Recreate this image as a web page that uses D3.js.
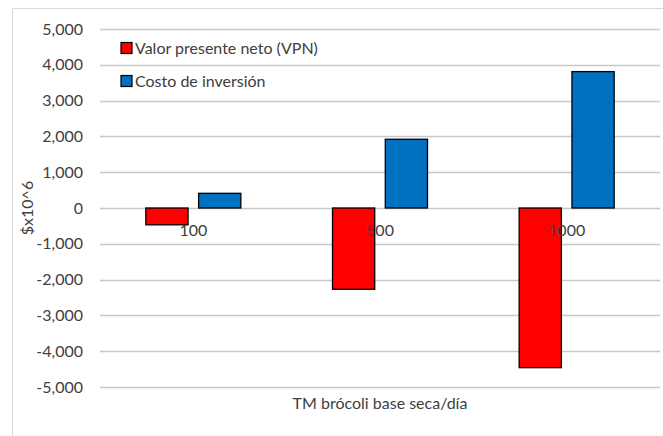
<!DOCTYPE html>
<html>
<head>
<meta charset="utf-8">
<script src="https://cdn.jsdelivr.net/npm/d3@7"></script>
<style>
  body { margin: 0; background: #fff; }
  svg text { font-family: Lato, "Open Sans", sans-serif; fill: #404040; font-size: 16px; }
</style>
</head>
<body>
<div class="chart"></div>
<script>
const categories = ["100", "500", "1000"];
const seriesNames = ["Valor presente neto (VPN)", "Costo de inversión"];
const vpn = [-470, -2270, -4460];
const costo = [410, 1920, 3810];
const yTicks = [5000, 4000, 3000, 2000, 1000, 0, -1000, -2000, -3000, -4000, -5000];
const colors = ["#ff0000", "#0070c0"];

const width = 663, height = 436;
const margin = { top: 29, right: 3, bottom: 49, left: 100 };

const svg = d3.select("div.chart")
  .append("svg")
  .attr("width", width)
  .attr("height", height);

// chart area border (only left and top are inside the picture)
svg.append("path")
  .attr("d", `M12.5,${height} V8.5 H${width}`)
  .attr("fill", "none")
  .attr("stroke", "#d9d9d9")
  .attr("stroke-width", 1);

const y = d3.scaleLinear()
  .domain([-5000, 5000])
  .range([height - margin.bottom, margin.top]);

const x = d3.scaleBand()
  .domain(categories)
  .range([margin.left, width - margin.right]);

const inner = d3.scaleBand()
  .domain([0, 1])
  .range([x.bandwidth() / 2 - 47.5, x.bandwidth() / 2 + 47.5])
  .paddingInner(0.2);

// gridlines
svg.append("g")
  .selectAll("line")
  .data(yTicks)
  .join("line")
  .attr("x1", margin.left)
  .attr("x2", width - margin.right)
  .attr("y1", d => Math.round(y(d)) + 0.5)
  .attr("y2", d => Math.round(y(d)) + 0.5)
  .attr("stroke", "#c8c8c8")
  .attr("stroke-width", 1.6);

// y tick labels, plain hyphen for negatives
const fmt = d3.formatLocale({ decimal: ".", thousands: ",", grouping: [3], currency: ["$", ""], minus: "-" }).format(",");
svg.append("g")
  .selectAll("text")
  .data(yTicks)
  .join("text")
  .attr("x", 83)
  .attr("y", d => y(d))
  .attr("dy", "0.35em")
  .attr("text-anchor", "end")
  .text(d => fmt(d));

// bars
const seriesData = [vpn, costo];
const groups = svg.append("g")
  .selectAll("g")
  .data(categories)
  .join("g")
  .attr("transform", d => `translate(${x(d)},0)`);

groups.selectAll("rect")
  .data((c, i) => seriesData.map((s, k) => ({ k, value: s[i] })))
  .join("rect")
  .attr("x", d => inner(d.k))
  .attr("width", inner.bandwidth())
  .attr("y", d => y(Math.max(0, d.value)))
  .attr("height", d => Math.abs(y(d.value) - y(0)))
  .attr("fill", d => colors[d.k])
  .attr("stroke", "#000")
  .attr("stroke-width", 1.3);

// category labels sit just under the zero line, over the bars
svg.append("g")
  .selectAll("text")
  .data(categories)
  .join("text")
  .attr("x", d => x(d) + x.bandwidth() / 2)
  .attr("y", y(0) + 28)
  .attr("text-anchor", "middle")
  .text(d => d);

// axis titles
svg.append("text")
  .attr("x", (margin.left + width - margin.right) / 2)
  .attr("y", 409)
  .attr("text-anchor", "middle")
  .text("TM brócoli base seca/día");

svg.append("text")
  .attr("transform", `translate(33,${y(0)}) rotate(-90)`)
  .attr("text-anchor", "middle")
  .text("$x10^6");

// legend
const legend = svg.append("g")
  .selectAll("g")
  .data(seriesNames)
  .join("g")
  .attr("transform", (d, i) => `translate(121,${42.5 + i * 33})`);

legend.append("rect")
  .attr("width", 11)
  .attr("height", 11)
  .attr("fill", (d, i) => colors[i])
  .attr("stroke", "#000")
  .attr("stroke-width", 1.2);

legend.append("text")
  .attr("x", 14)
  .attr("y", 6)
  .attr("dy", "0.35em")
  .text(d => d);
</script>
</body>
</html>
